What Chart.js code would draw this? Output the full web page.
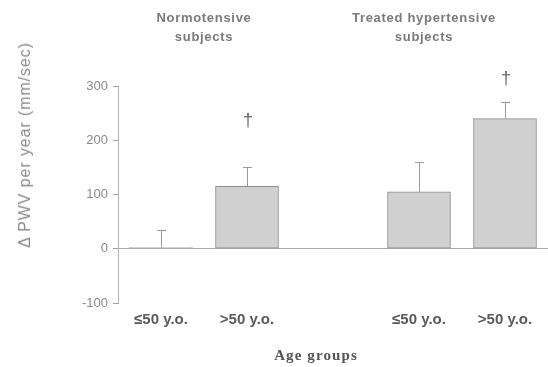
<!DOCTYPE html>
<html><head><meta charset="utf-8">
<script src="https://cdn.jsdelivr.net/npm/chart.js@4"></script>
<style>
html,body{margin:0;padding:0;background:#fff;}
#wrap{position:relative;width:548px;height:367px;}
canvas{position:absolute;left:0;top:0;}
.t{position:absolute;font-family:"Liberation Sans",Arial,sans-serif;font-weight:bold;color:#7a7a7a;font-size:13px;letter-spacing:0.7px;text-align:center;line-height:19px;white-space:nowrap;}
#ytitle{position:absolute;left:25px;top:145px;transform:translate(-50%,-50%) rotate(-90deg);font-family:"Liberation Sans",Arial,sans-serif;font-size:16px;letter-spacing:0.9px;color:#8a8a8a;white-space:nowrap;}
#xtitle{position:absolute;left:316px;top:355px;transform:translate(-50%,-50%);font-family:"Liberation Serif","DejaVu Serif",serif;font-weight:bold;font-size:15px;letter-spacing:1.1px;color:#555;white-space:nowrap;}
</style></head>
<body><div id="wrap">
<canvas id="c" width="548" height="367"></canvas>
<div class="t" style="left:204px;top:8px;transform:translateX(-50%);">Normotensive<br>subjects</div>
<div class="t" style="left:424px;top:8px;transform:translateX(-50%);">Treated hypertensive<br>subjects</div>
<div id="ytitle">Δ PWV per year (mm/sec)</div>
<div id="xtitle">Age groups</div>
</div>
<script>
const categories = ['≤50 y.o.', '>50 y.o.', '', '≤50 y.o.', '>50 y.o.'];
const meanValues = [2, 115, null, 105, 240];
const errorTops = [35, 150, null, 160, 270];
const daggerAt = [null, 235, null, null, 313];
const yTicks = [-100, 0, 100, 200, 300];

const errPlugin = {
  id: 'errs',
  afterDatasetsDraw(chart) {
    const ctx = chart.ctx, meta = chart.getDatasetMeta(0), ys = chart.scales.y;
    ctx.save();
    meta.data.forEach((bar, i) => {
      if (errorTops[i] == null || meanValues[i] == null) return;
      const x = Math.round(bar.x), y0 = ys.getPixelForValue(meanValues[i]), y1 = Math.round(ys.getPixelForValue(errorTops[i]));
      ctx.strokeStyle = '#9a9a9a'; ctx.lineWidth = 1;
      ctx.beginPath(); ctx.moveTo(x + 0.5, y0); ctx.lineTo(x + 0.5, y1);
      ctx.moveTo(x - 4, y1 + 0.5); ctx.lineTo(x + 5, y1 + 0.5); ctx.stroke();
      const d = daggerAt[i];
      if (d != null) {
        ctx.fillStyle = '#666';
        ctx.font = '18px "Liberation Sans", Arial, sans-serif';
        ctx.textAlign = 'center'; ctx.textBaseline = 'middle';
        ctx.fillText('†', x + 1, ys.getPixelForValue(d));
      }
    });
    ctx.restore();
  }
};

new Chart(document.getElementById('c'), {
  type: 'bar',
  data: {
    labels: categories,
    datasets: [{
      data: meanValues,
      backgroundColor: '#d0d0d0',
      borderColor: '#8c8c8c',
      borderWidth: 1,
      borderSkipped: false,
      barThickness: 63
    }]
  },
  options: {
    responsive: false,
    animation: false,
    devicePixelRatio: 1,
    layout: { padding: { left: 0, top: 86, right: 0, bottom: 0 } },
    plugins: { legend: { display: false }, tooltip: { enabled: false } },
    scales: {
      x: {
        grid: { display: false },
        border: { display: false },
        ticks: { color: '#5a5a5a', font: { family: '"Liberation Sans", Arial, sans-serif', size: 15, weight: 'bold' }, padding: 0, maxRotation: 0 },
        afterFit(s) { s.height = 64; }
      },
      y: {
        min: -100, max: 300,
        afterBuildTicks(s) { s.ticks = yTicks.map(v => ({ value: v })); },
        afterFit(s) { s.width = 118; },
        border: { display: true, color: '#b4b4b4' },
        grid: {
          color: c => (c.tick && c.tick.value === 0) ? '#a8a8a8' : 'rgba(0,0,0,0)',
          tickColor: '#a0a0a0', tickLength: 5
        },
        ticks: { color: '#8a8a8a', font: { family: '"Liberation Sans", Arial, sans-serif', size: 13 }, padding: 5 }
      }
    }
  },
  plugins: [errPlugin]
});
</script>
</body></html>
